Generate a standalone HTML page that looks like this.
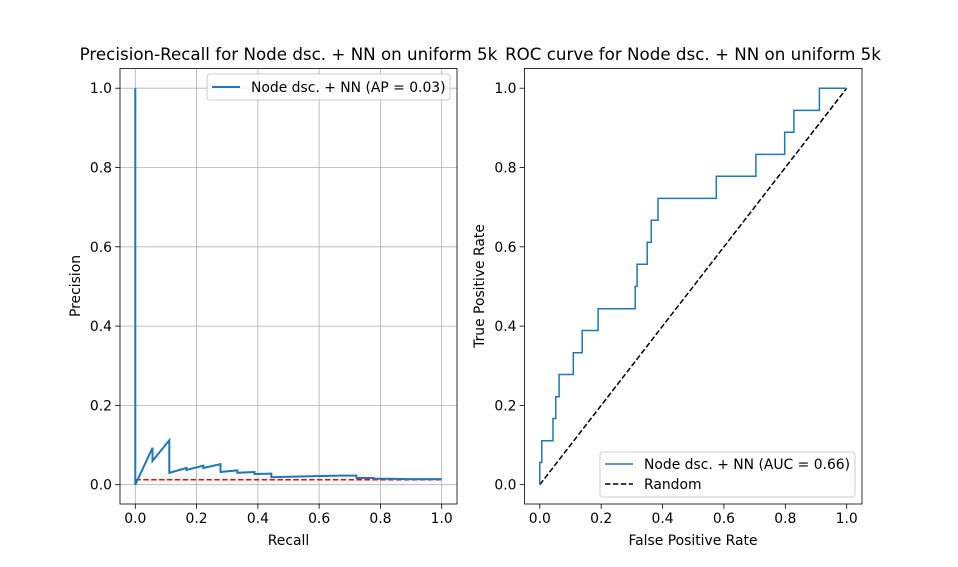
<!DOCTYPE html>
<html><head><meta charset="utf-8"><style>
body{margin:0;background:#fff}
svg{display:block;font-family:"DejaVu Sans","Liberation Sans",sans-serif}
</style></head><body>
<svg id="fig" width="958" height="567" viewBox="0 0 958 567" xmlns="http://www.w3.org/2000/svg"></svg>
<script>
// PR curve data
const prRecall = [0,0,0.056,0.056,0.111,0.111,0.167,0.167,0.222,0.222,0.278,0.278,0.333,0.333,0.389,0.389,0.444,0.444,0.5,0.556,0.611,0.667,0.722,0.722,0.778,0.778,0.833,0.889,0.944,1.0];
const prPrecision = [1.0,0.0,0.093,0.06,0.112,0.03,0.042,0.037,0.048,0.042,0.052,0.032,0.036,0.030,0.032,0.027,0.028,0.019,0.020,0.021,0.022,0.023,0.023,0.017,0.017,0.015,0.015,0.014,0.014,0.014];
const prBaseline = 0.0126;
// ROC data
const rocFpr = [0,0,0.0065,0.0065,0.043,0.043,0.052,0.052,0.063,0.063,0.109,0.109,0.138,0.138,0.19,0.19,0.311,0.311,0.317,0.317,0.35,0.35,0.363,0.363,0.385,0.385,0.575,0.575,0.704,0.704,0.798,0.798,0.828,0.828,0.911,0.911,1.0];
const rocTpr = [0,0.056,0.056,0.111,0.111,0.167,0.167,0.222,0.222,0.278,0.278,0.333,0.333,0.389,0.389,0.444,0.444,0.5,0.5,0.556,0.556,0.611,0.611,0.667,0.667,0.722,0.722,0.778,0.778,0.833,0.833,0.889,0.889,0.944,0.944,1.0,1.0];
const tickVals = [0,0.2,0.4,0.6,0.8,1.0];
const tickLabels = ["0.0","0.2","0.4","0.6","0.8","1.0"];

const NS="http://www.w3.org/2000/svg";
const svg=document.getElementById('fig');
function el(tag,attrs,parent,text){const e=document.createElementNS(NS,tag);for(const k in attrs)e.setAttribute(k,attrs[k]);if(text!==undefined)e.textContent=text;(parent||svg).appendChild(e);return e;}

function makeAxes(name,L,R,T,B,grid){
  const x0=L+15.3,x1=R-15.3,y0=B-19.3,y1=T+19.7;
  const sx=v=>x0+v*(x1-x0), sy=v=>y0-v*(y0-y1);
  const g=el('g',{});
  
  
  tickVals.forEach((v,i)=>{
    if(grid){
      const gx=el('line',{x1:sx(v),x2:sx(v),y1:T,y2:B,stroke:'#b0b0b0','stroke-width':0.8},g);
      
      const gy=el('line',{x1:L,x2:R,y1:sy(v),y2:sy(v),stroke:'#b0b0b0','stroke-width':0.8},g);
      
    }
    el('line',{x1:sx(v),x2:sx(v),y1:B,y2:B+4.9,stroke:'#000','stroke-width':0.8},g);
    const tx=el('text',{x:sx(v),y:B+19,'font-size':13.9,'text-anchor':'middle'},g,tickLabels[i]);
    
    el('line',{x1:L-4.9,x2:L,y1:sy(v),y2:sy(v),stroke:'#000','stroke-width':0.8},g);
    const ty=el('text',{x:L-8,y:sy(v)+5,'font-size':13.9,'text-anchor':'end'},g,tickLabels[i]);
    
  });
  return {g,sx,sy};
}
function pts(xs,ys,sx,sy){return xs.map((x,i)=>sx(x).toFixed(1)+','+sy(ys[i]).toFixed(1)).join(' ');}

// Left: PR
const A=makeAxes('pr-axes',120,457,68.5,504,true);
let p=el('polyline',{points:pts([0,1],[prBaseline,prBaseline],A.sx,A.sy),fill:'none',stroke:'#ff0000','stroke-width':1.5,'stroke-dasharray':'5.5,2.4'},A.g);

p=el('polyline',{points:pts(prRecall,prPrecision,A.sx,A.sy),fill:'none',stroke:'#1f77b4','stroke-width':2,'stroke-linejoin':'miter'},A.g);

el('rect',{x:120,y:68.5,width:337,height:435.5,fill:'none',stroke:'#000','stroke-width':0.8},A.g);
let t=el('text',{x:288.5,y:60,'font-size':16.7,'text-anchor':'middle'},A.g,'Precision-Recall for Node dsc. + NN on uniform 5k');

t=el('text',{x:288.5,y:545,'font-size':13.9,'text-anchor':'middle'},A.g,'Recall');

t=el('text',{x:0,y:0,'font-size':13.9,'text-anchor':'middle',transform:'translate(80,286) rotate(-90)'},A.g,'Precision');

let lg=el('g',{},A.g);

el('rect',{x:207,y:74,width:243,height:26,rx:3,fill:'#fff','fill-opacity':0.8,stroke:'#ccc','stroke-width':1},lg);
el('line',{x1:212,x2:240,y1:87,y2:87,stroke:'#1f77b4','stroke-width':2},lg);
el('text',{x:251,y:92,'font-size':13.9},lg,'Node dsc. + NN (AP = 0.03)');

// Right: ROC
const B2=makeAxes('roc-axes',524.5,862,68.5,504,false);
p=el('polyline',{points:pts([0,1],[0,1],B2.sx,B2.sy),fill:'none',stroke:'#000','stroke-width':1.5,'stroke-dasharray':'5.5,2.4'},B2.g);

p=el('polyline',{points:pts(rocFpr,rocTpr,B2.sx,B2.sy),fill:'none',stroke:'#1f77b4','stroke-width':1.5},B2.g);

el('rect',{x:524.5,y:68.5,width:337.5,height:435.5,fill:'none',stroke:'#000','stroke-width':0.8},B2.g);
t=el('text',{x:693,y:60,'font-size':16.7,'text-anchor':'middle'},B2.g,'ROC curve for Node dsc. + NN on uniform 5k');

t=el('text',{x:693,y:545,'font-size':13.9,'text-anchor':'middle'},B2.g,'False Positive Rate');

t=el('text',{x:0,y:0,'font-size':13.9,'text-anchor':'middle',transform:'translate(484,286) rotate(-90)'},B2.g,'True Positive Rate');

lg=el('g',{},B2.g);

el('rect',{x:600,y:452,width:255,height:45,rx:3,fill:'#fff','fill-opacity':0.8,stroke:'#ccc','stroke-width':1},lg);
el('line',{x1:605,x2:633,y1:464,y2:464,stroke:'#1f77b4','stroke-width':1.5},lg);
el('text',{x:644,y:469,'font-size':13.9},lg,'Node dsc. + NN (AUC = 0.66)');
el('line',{x1:605,x2:633,y1:484,y2:484,stroke:'#000','stroke-width':1.5,'stroke-dasharray':'5.5,2.4'},lg);
el('text',{x:644,y:489,'font-size':13.9},lg,'Random');
</script>
</body></html>
